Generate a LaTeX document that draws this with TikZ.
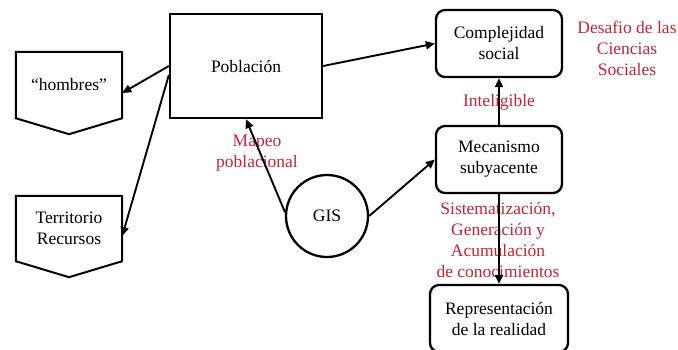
\documentclass[tikz,border=0pt]{standalone}
\usepackage{fontspec}
\setmainfont{Liberation Serif}
\usetikzlibrary{positioning,arrows.meta,calc}
\definecolor{lblred}{RGB}{196,36,56}
\tikzset{
  arr/.style={-{Triangle[length=9pt,width=8pt]},line width=1.9pt},
  sqbox/.style={draw,line width=2.3pt,minimum width=152pt,minimum height=104pt,align=center},
  rbox/.style={draw,line width=2.3pt,rounded corners=9pt,minimum width=126pt,minimum height=67pt,align=center},
  pent/.style={minimum width=106pt,minimum height=66pt,align=center,inner sep=0pt},
  gisc/.style={circle,draw,line width=2.3pt,minimum size=82pt,inner sep=0pt},
  redlbl/.style={text=lblred,align=center},
}
\begin{document}
\begin{tikzpicture}[x=1pt,y=-1pt,font=\fontsize{17.5}{21}\selectfont]
  \useasboundingbox (0,0) rectangle (678,349);
  % main boxes
  \node[sqbox] (pob) at (246,66) {Población};
  \node[rbox] (comp) at (499,43.5) {Complejidad\\social};
  \node[rbox] (mec) at (499,159.5) {Mecanismo\\subyacente};
  \node[rbox,minimum width=138pt] (rep) at (499,318.5) {Representación\\de la realidad};
  \node[gisc] (gis) at (327,216) {GIS};
  % pentagons
  \node[pent] (hom) at (69,85) {``hombres''};
  \node[pent,minimum height=65pt] (ter) at (69,228.5) {Territorio\\Recursos};
  \foreach \p in {hom,ter}
    \draw[line width=2pt,line join=miter] (\p.north west) -- (\p.north east) -- (\p.south east)
      -- ($(\p.south)+(0,16)$) -- (\p.south west) -- cycle;
  % red labels
  \node[redlbl] (intel) at (499,102) {Inteligible};
  \node[redlbl] (mapeo) at (257,153) {Mapeo\\poblacional};
  \node[redlbl] (desaf) at (627,48) {Desafio de las\\Ciencias\\Sociales};
  \node[redlbl] (sist) at (498,240) {Sistematización,\\Generación y\\Acumulación\\de conocimientos};
  % connectors
  \draw[arr] (pob.west) -- ([yshift=-8pt]hom.east);
  \draw[arr] ([yshift=-9pt]pob.west) -- ([yshift=-7.5pt]ter.east);
  \draw[arr] (pob.east) -- (comp.west);
  \draw[arr] (mec.north) -- (comp.south);
  \draw[arr] (mec.south) -- (rep.north);
  \draw[arr] (gis.175) -- (pob.south);
  \draw[arr] (gis.east) -- (mec.west);
\end{tikzpicture}
\end{document}
